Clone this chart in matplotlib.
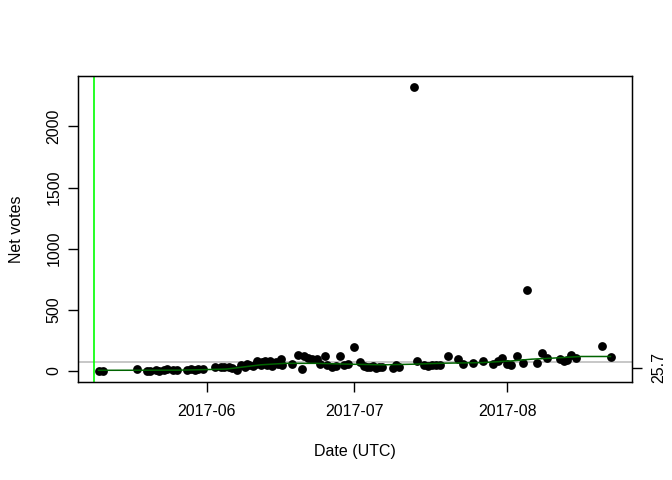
import matplotlib
matplotlib.use("Agg")
import matplotlib.pyplot as plt
import pandas as pd

plt.rcParams['font.family'] = ['Liberation Sans', 'DejaVu Sans']

# ---- data ----
dates = [
    "2017-05-10 00:00", "2017-05-11 00:00", "2017-05-17 22:00", "2017-05-19 18:00",
    "2017-05-20 13:00", "2017-05-21 14:00", "2017-05-22 09:00", "2017-05-23 05:00",
    "2017-05-24 00:00", "2017-05-25 01:00", "2017-05-26 01:00", "2017-05-27 21:00",
    "2017-05-28 17:00", "2017-05-29 12:00", "2017-05-30 07:00", "2017-05-31 03:00",
    "2017-06-02 18:00", "2017-06-03 19:00", "2017-06-04 14:00", "2017-06-05 10:00",
    "2017-06-06 05:00", "2017-06-07 01:00", "2017-06-08 01:00", "2017-06-08 16:00",
    "2017-06-09 06:00", "2017-06-09 16:00", "2017-06-10 07:00", "2017-06-10 22:00",
    "2017-06-11 07:00", "2017-06-11 22:00", "2017-06-12 07:00", "2017-06-12 22:00",
    "2017-06-13 07:00", "2017-06-13 22:00", "2017-06-14 08:00", "2017-06-14 23:00",
    "2017-06-15 09:00", "2017-06-15 23:30", "2017-06-16 09:00", "2017-06-18 05:00",
    "2017-06-19 14:00", "2017-06-20 06:00", "2017-06-20 16:00", "2017-06-21 11:00",
    "2017-06-22 07:00", "2017-06-23 07:00", "2017-06-24 02:00", "2017-06-24 22:00",
    "2017-06-25 12:00", "2017-06-26 08:00", "2017-06-27 04:00", "2017-06-27 23:00",
    "2017-06-28 19:00", "2017-06-29 14:00", "2017-07-01 00:00", "2017-07-02 01:00",
    "2017-07-02 20:00", "2017-07-03 11:00", "2017-07-04 02:00", "2017-07-04 16:00",
    "2017-07-05 07:00", "2017-07-05 22:00", "2017-07-06 12:00", "2017-07-08 18:00",
    "2017-07-09 08:00", "2017-07-09 23:00", "2017-07-13 00:00", "2017-07-13 19:00",
    "2017-07-15 01:00", "2017-07-15 21:00", "2017-07-16 16:00", "2017-07-17 12:00",
    "2017-07-18 07:00", "2017-07-19 22:00", "2017-07-21 23:00", "2017-07-22 23:30",
    "2017-07-25 00:00", "2017-07-27 01:00", "2017-07-29 02:00", "2017-07-30 02:00",
    "2017-07-30 22:00", "2017-07-31 22:00", "2017-08-01 17:00", "2017-08-02 23:00",
    "2017-08-04 04:00", "2017-08-04 23:30", "2017-08-07 00:00", "2017-08-08 01:00",
    "2017-08-09 01:00", "2017-08-11 17:00", "2017-08-12 12:00", "2017-08-13 02:00",
    "2017-08-13 22:00", "2017-08-14 23:00", "2017-08-20 05:00", "2017-08-22 05:00",
]
net_votes = [
    2, 2, 14, 3, 2, 4, 3, 6, 18, 5, 4, 10, 12, 8, 15, 18,
    30, 32, 28, 35, 20, 10, 45, 30, 55, 45, 40, 60, 80, 45, 70, 85,
    50, 80, 40, 70, 55, 95, 45, 58, 130, 14, 125, 105, 95, 100, 60, 118,
    45, 35, 40, 118, 50, 55, 195, 72, 40, 35, 30, 40, 25, 35, 30, 25,
    45, 30, 2320, 85, 50, 40, 45, 48, 50, 118, 99, 58, 63, 77, 58, 77,
    104, 60, 48, 118, 63, 658, 68, 146, 104, 96, 85, 90, 132, 104, 206, 113,
]

trend_dates = [
    "2017-05-10", "2017-05-26", "2017-05-31", "2017-06-05", "2017-06-07",
    "2017-06-09", "2017-06-12", "2017-06-17", "2017-06-23", "2017-06-30",
    "2017-07-07", "2017-07-13", "2017-07-19", "2017-07-27", "2017-08-02",
    "2017-08-06", "2017-08-10", "2017-08-16", "2017-08-22",
]
trend_values = [5, 6, 10, 15, 25, 35, 50, 62, 62, 55, 50, 55, 63, 68, 82, 96, 104, 118, 118]

vline_date = "2017-05-09"
hline_value = 74
right_tick_value = 25.7
right_tick_label = "25.7"
y_ticks = [0, 500, 1000, 1500, 2000]
x_ticks = ["2017-06-01", "2017-07-01", "2017-08-01"]
x_tick_labels = ["2017-06", "2017-07", "2017-08"]

FS = 11.5

# ---- plot ----
x = pd.to_datetime(dates)
tx = pd.to_datetime(trend_dates)

fig = plt.figure(figsize=(6.72, 4.8), dpi=100)
ax = fig.add_axes([78/672, 1-382/480, (632-78)/672, (382-76)/480])

ax.axhline(hline_value, color='#BEBEBE', lw=1.2, zorder=1)
ax.axvline(pd.Timestamp(vline_date), color='#00FF00', lw=1.2, zorder=1)
ax.scatter(x, net_votes, s=40, color='black', zorder=3, linewidths=0)
ax.plot(tx, trend_values, color='#006400', lw=1.1, zorder=4)

xmin, xmax = x.min(), x.max()
pad = (xmax - xmin) * 0.04
ax.set_xlim(xmin - pad, xmax + pad)
ymin, ymax = min(net_votes), max(net_votes)
ypad = (ymax - ymin) * 0.04
ax.set_ylim(ymin - ypad, ymax + ypad)

ax.set_yticks(y_ticks)
ax.set_yticklabels([str(v) for v in y_ticks], rotation=90, va='center')
ax.set_xticks(pd.to_datetime(x_ticks))
ax.set_xticklabels(x_tick_labels)
ax.tick_params(axis='both', direction='out', length=7, width=1, labelsize=FS)
ax.tick_params(axis='x', pad=9)
ax.tick_params(axis='y', pad=5)

for s in ax.spines.values():
    s.set_linewidth(1)

ax.set_xlabel("Date (UTC)", fontsize=FS, labelpad=18)
ax.set_ylabel("Net votes", fontsize=FS, labelpad=16)

ax2 = ax.twinx()
ax2.set_ylim(ax.get_ylim())
ax2.set_yticks([right_tick_value])
ax2.set_yticklabels([right_tick_label], rotation=90, va='center')
ax2.tick_params(axis='y', direction='out', length=7, width=1, labelsize=FS, pad=7)

fig.savefig("out.png", dpi=100)
